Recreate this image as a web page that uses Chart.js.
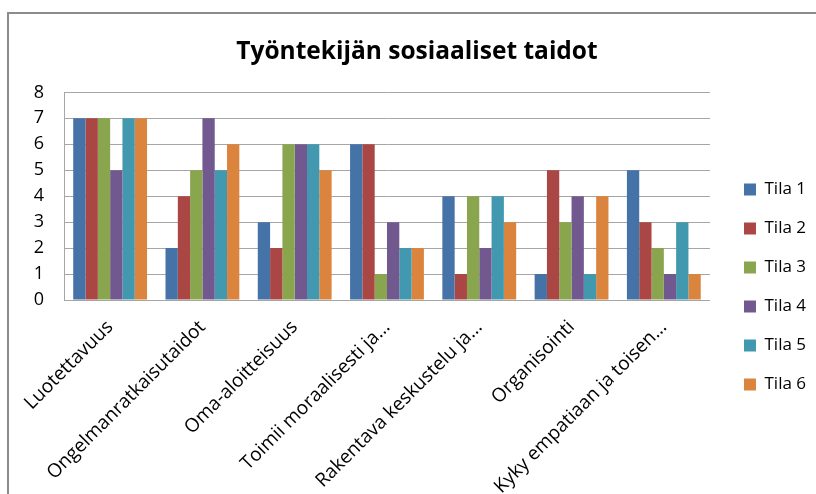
<!DOCTYPE html>
<html>
<head>
<meta charset="utf-8">
<script src="https://cdn.jsdelivr.net/npm/chart.js@4"></script>
<style>
  html, body { margin: 0; padding: 0; background: #fff; }
  #kehys { position: absolute; left: 7px; top: 12px; width: 830px; height: 500px; border: 2px solid #8c8c8c; box-sizing: border-box; }
  #wrap { position: absolute; left: 0; top: 0; width: 816px; height: 494px; }
</style>
</head>
<body>
<div id="kehys"></div>
<div id="wrap"><canvas id="kaavio"></canvas></div>
<script>
const kategoriat = [
  "Luotettavuus",
  "Ongelmanratkaisutaidot",
  "Oma-aloitteisuus",
  "Toimii moraalisesti ja...",
  "Rakentava keskustelu ja...",
  "Organisointi",
  "Kyky empatiaan ja toisen..."
];
const tila1 = [7, 2, 3, 6, 4, 1, 5];
const tila2 = [7, 4, 2, 6, 1, 5, 3];
const tila3 = [7, 5, 6, 1, 4, 3, 2];
const tila4 = [5, 7, 6, 3, 2, 4, 1];
const tila5 = [7, 5, 6, 2, 4, 1, 3];
const tila6 = [7, 6, 5, 2, 3, 4, 1];

const sarjat = [
  { nimi: "Tila 1", arvot: tila1, vari: "#4572A7" },
  { nimi: "Tila 2", arvot: tila2, vari: "#AA4643" },
  { nimi: "Tila 3", arvot: tila3, vari: "#89A54E" },
  { nimi: "Tila 4", arvot: tila4, vari: "#71588F" },
  { nimi: "Tila 5", arvot: tila5, vari: "#4198AF" },
  { nimi: "Tila 6", arvot: tila6, vari: "#DB843D" }
];

const fontti = "'Open Sans', 'Liberation Sans', sans-serif";

new Chart(document.getElementById("kaavio"), {
  type: "bar",
  data: {
    labels: kategoriat,
    datasets: sarjat.map(s => ({
      label: s.nimi,
      data: s.arvot,
      backgroundColor: s.vari,
      borderWidth: 0,
      categoryPercentage: 0.8,
      barPercentage: 1.0
    }))
  },
  options: {
    responsive: true,
    maintainAspectRatio: false,
    animation: false,
    layout: { padding: { left: 18, right: 0, top: 0, bottom: 0 } },
    plugins: {
      title: {
        display: true,
        text: "Työntekijän sosiaaliset taidot",
        color: "#000",
        font: { family: fontti, size: 24.5, weight: "bold" },
        padding: { top: 37, bottom: 26 }
      },
      legend: {
        position: "right",
        title: {
          display: true,
          text: " ",
          font: { size: 10 },
          padding: { top: 0, bottom: 68 }
        },
        labels: {
          color: "#000",
          font: { family: fontti, size: 17 },
          boxWidth: 12,
          boxHeight: 12,
          padding: 22
        }
      },
      tooltip: { enabled: false }
    },
    scales: {
      x: {
        grid: { display: false, drawTicks: false },
        border: { display: true, color: "#a6a6a6", width: 1 },
        ticks: {
          color: "#000",
          font: { family: fontti, size: 19 },
          minRotation: 45,
          maxRotation: 45,
          autoSkip: false,
          padding: 16
        },
        afterFit: scale => { scale.height = 194; }
      },
      y: {
        min: 0,
        max: 8,
        grid: { color: "#a6a6a6", drawTicks: false },
        border: { display: true, color: "#a6a6a6", width: 1 },
        ticks: {
          stepSize: 1,
          color: "#000",
          font: { family: fontti, size: 18 },
          padding: 20
        },
        afterFit: scale => { scale.width = 46; }
      },
      // tyhjä väli kuvaajan ja selitteen väliin
      vali: {
        type: "linear",
        position: "right",
        grid: { display: false },
        border: { display: false },
        ticks: { display: false },
        afterFit: scale => { scale.width = 12; }
      }
    }
  }
});
</script>
</body>
</html>
